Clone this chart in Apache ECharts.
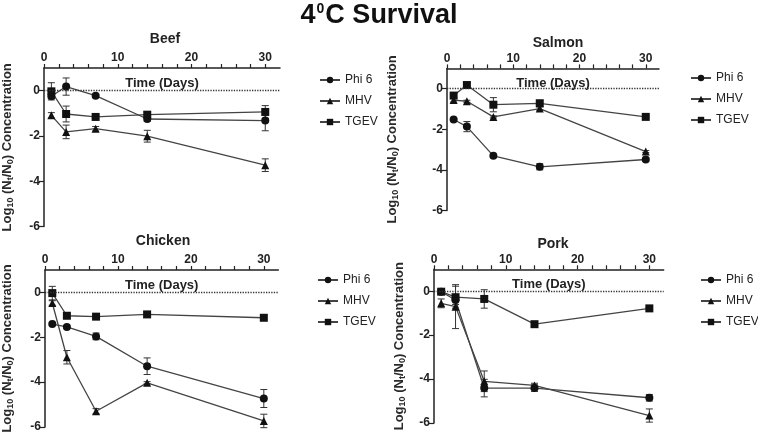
<!DOCTYPE html>
<html>
<head>
<meta charset="utf-8">
<script src="https://cdn.jsdelivr.net/npm/echarts@6/dist/echarts.min.js"></script>
<style>html,body{margin:0;padding:0;background:#fff;}#c{width:758px;height:435px;}</style>
</head>
<body>
<div id="c"></div>
<script>
// ---- data ----
const days = [1, 3, 7, 14, 30];
const seriesNames = ['Phi 6', 'MHV', 'TGEV'];
const panelNames = ['Beef', 'Salmon', 'Chicken', 'Pork'];
const xTickLabels = [0, 10, 20, 30];
const yTickLabels = [-6, -4, -2, 0];

const beefPhi6 = [-0.25, 0.18, -0.22, -1.25, -1.32];
const beefPhi6Err = [0.1, 0.38, 0.06, 0.1, 0.45];
const beefMHV = [-1.09, -1.82, -1.68, -2.01, -3.29];
const beefMHVErr = [0.12, 0.3, 0.1, 0.26, 0.28];
const beefTGEV = [-0.03, -1.03, -1.16, -1.06, -0.94];
const beefTGEVErr = [0.38, 0.35, 0.08, 0.12, 0.28];

const salmonPhi6 = [-1.52, -1.87, -3.31, -3.85, -3.49];
const salmonPhi6Err = [0.05, 0.25, 0.05, 0.15, 0.08];
const salmonMHV = [-0.56, -0.62, -1.39, -0.98, -3.1];
const salmonMHVErr = [0.1, 0.05, 0.05, 0.08, 0.05];
const salmonTGEV = [-0.34, 0.18, -0.79, -0.72, -1.39];
const salmonTGEVErr = [0.12, 0.1, 0.35, 0.15, 0.05];

const chickenPhi6 = [-1.41, -1.54, -1.96, -3.29, -4.73];
const chickenPhi6Err = [0.05, 0.05, 0.15, 0.37, 0.4];
const chickenMHV = [-0.47, -2.89, -5.3, -4.03, -5.73];
const chickenMHVErr = [0.1, 0.3, 0.12, 0.05, 0.3];
const chickenTGEV = [-0.03, -1.04, -1.08, -0.98, -1.13];
const chickenTGEVErr = [0.3, 0.05, 0.05, 0.1, 0.05];

const porkPhi6 = [-0.02, -0.4, -4.41, -4.41, -4.85];
const porkPhi6Err = [0.1, 0.2, 0.4, 0.15, 0.15];
const porkMHV = [-0.55, -0.7, -4.1, -4.29, -5.66];
const porkMHVErr = [0.2, 1.0, 0.47, 0.1, 0.3];
const porkTGEV = [-0.02, -0.27, -0.35, -1.5, -0.78];
const porkTGEVErr = [0.1, 0.5, 0.42, 0.05, 0.05];

const panelData = [
  [[beefPhi6, beefPhi6Err], [beefMHV, beefMHVErr], [beefTGEV, beefTGEVErr]],
  [[salmonPhi6, salmonPhi6Err], [salmonMHV, salmonMHVErr], [salmonTGEV, salmonTGEVErr]],
  [[chickenPhi6, chickenPhi6Err], [chickenMHV, chickenMHVErr], [chickenTGEV, chickenTGEVErr]],
  [[porkPhi6, porkPhi6Err], [porkMHV, porkMHVErr], [porkTGEV, porkTGEVErr]]
];

// ---- layout ----
const FONT = 'Liberation Sans, Arial, sans-serif';
const grids = [
  {left: 40, top: 68, width: 240, height: 158.6},
  {left: 447, top: 68.4, width: 212, height: 142},
  {left: 40, top: 270, width: 238.4, height: 157},
  {left: 434, top: 269.3, width: 229.7, height: 153.7}
];
const yNameGaps = [29, 47, 30, 27];
const panelTitlePos = [[160, 27], [553, 31], [158, 229], [548, 232]];
const legendPos = [[319, 73], [690, 71], [317, 273], [700, 273]];
const symbols = ['circle', 'triangle', 'rect'];
const symbolSizes = [8, 8, 8];
const tickVals = [];
for (let t = 0; t <= 30; t += 2) tickVals.push(t);

const xAxes = [], yAxes = [], series = [], titles = [], legends = [];

titles.push({
  text: '4{sup|0}C Survival', left: 'center', top: 2, padding: 0,
  textStyle: {fontFamily: FONT, fontSize: 27, fontWeight: 'bold', color: '#111',
    rich: {sup: {fontFamily: FONT, fontSize: 14, fontWeight: 'bold', color: '#111', verticalAlign: 'top', padding: [0, 1, 11, 1]}}}
});

panelNames.forEach((p, gi) => {
  titles.push({
    text: p, left: panelTitlePos[gi][0], top: panelTitlePos[gi][1], textAlign: 'center',
    textStyle: {fontFamily: FONT, fontSize: 14, fontWeight: 'bold', color: '#222'}
  });
  xAxes.push({
    type: 'value', gridIndex: gi, position: 'top', min: 0, max: 32,
    axisLine: {show: true, onZero: false, lineStyle: {color: '#222', width: 1.5}},
    axisTick: {show: true, customValues: tickVals, length: 4, lineStyle: {color: '#222', width: 1.2}},
    axisLabel: {customValues: xTickLabels, fontFamily: FONT, fontSize: 12, fontWeight: 'bold', color: '#222', margin: 4},
    splitLine: {show: false},
    name: 'Time (Days)', nameLocation: 'middle', nameGap: -15,
    nameTextStyle: {fontFamily: FONT, fontSize: 13, fontWeight: 'bold', color: '#222', verticalAlign: 'middle'}
  });
  yAxes.push({
    type: 'value', gridIndex: gi, min: -6, max: 1,
    axisLine: {show: true, onZero: false, lineStyle: {color: '#222', width: 1.5}},
    axisTick: {show: true, customValues: yTickLabels, length: 5, lineStyle: {color: '#222', width: 1.2}},
    axisLabel: {customValues: yTickLabels, fontFamily: FONT, fontSize: 12, fontWeight: 'bold', color: '#222', margin: 4},
    splitLine: {show: false},
    name: 'Log{sub|10} (N{sub|t}/N{sub|0}) Concentration', nameLocation: 'middle', nameGap: yNameGaps[gi], nameRotate: 90,
    nameTextStyle: {fontFamily: FONT, fontSize: 13, fontWeight: 'bold', color: '#2a2a2a',
      rich: {sub: {fontFamily: FONT, fontSize: 9, fontWeight: 'bold', color: '#2a2a2a', padding: [6, 0, 0, 0]}}}
  });
  legends.push({
    orient: 'vertical', left: legendPos[gi][0], top: legendPos[gi][1], padding: 0,
    itemWidth: 20, itemHeight: 8, itemGap: 7,
    textStyle: {fontFamily: FONT, fontSize: 12, color: '#222', lineHeight: 14},
    data: seriesNames, selectedMode: false
  });
  panelData[gi].forEach((sd, si) => {
    const vals = sd[0], errs = sd[1];
    const s = {
      type: 'line', name: seriesNames[si], xAxisIndex: gi, yAxisIndex: gi,
      data: days.map((d, i) => [d, vals[i]]),
      symbol: symbols[si], symbolSize: symbolSizes[si],
      itemStyle: {color: '#111'},
      lineStyle: {color: '#444', width: 1.3},
      z: 3, animation: false
    };
    if (si === 0) {
      s.markLine = {
        silent: true, symbol: 'none', label: {show: false}, animation: false,
        lineStyle: {type: 'dotted', color: '#333', width: 1.3},
        data: [{yAxis: 0}]
      };
    }
    series.push(s);
    series.push({
      type: 'custom', name: seriesNames[si] + ' err', xAxisIndex: gi, yAxisIndex: gi,
      data: days.map((d, i) => [d, vals[i], errs[i]]),
      z: 2, animation: false, silent: true,
      renderItem: function (params, api) {
        const x = api.value(0), y = api.value(1), e = api.value(2);
        const top = api.coord([x, y + e]);
        const bot = api.coord([x, y - e]);
        const w = 3.5;
        const st = {stroke: '#333', lineWidth: 1};
        return {type: 'group', children: [
          {type: 'line', shape: {x1: top[0], y1: top[1], x2: bot[0], y2: bot[1]}, style: st},
          {type: 'line', shape: {x1: top[0] - w, y1: top[1], x2: top[0] + w, y2: top[1]}, style: st},
          {type: 'line', shape: {x1: bot[0] - w, y1: bot[1], x2: bot[0] + w, y2: bot[1]}, style: st}
        ]};
      }
    });
  });
});

const chart = echarts.init(document.getElementById('c'));
chart.setOption({
  backgroundColor: '#fff',
  animation: false,
  title: titles,
  legend: legends,
  grid: grids,
  xAxis: xAxes,
  yAxis: yAxes,
  series: series
});
</script>
</body>
</html>
